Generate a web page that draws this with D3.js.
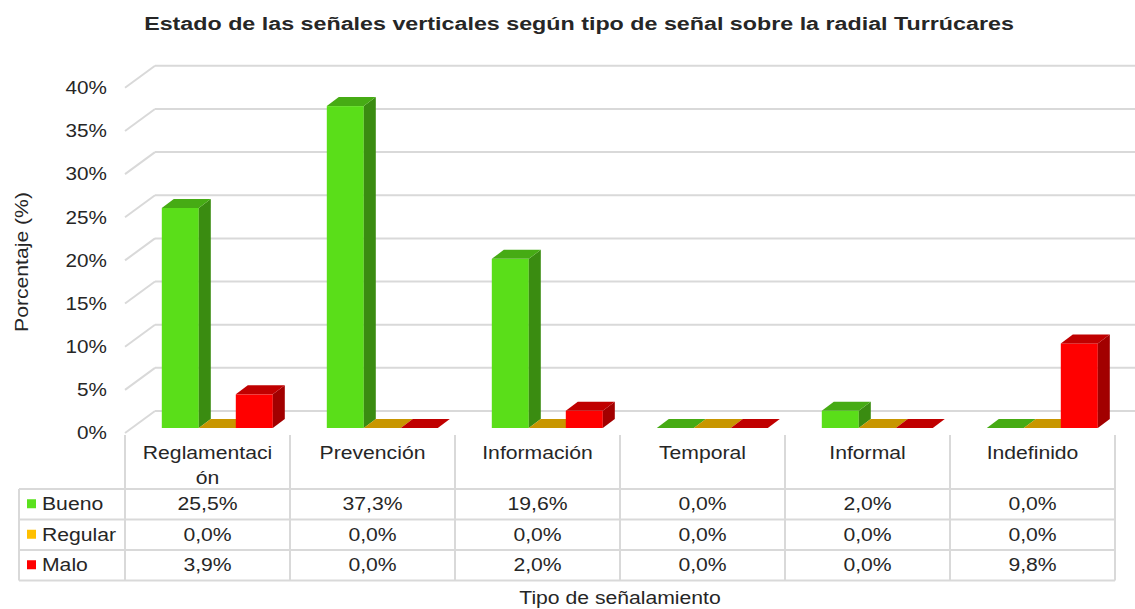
<!DOCTYPE html>
<html>
<head>
<meta charset="utf-8">
<script src="https://cdn.jsdelivr.net/npm/d3@7"></script>
<style>
  body { margin: 0; background: #fff; }
  text { font-family: "Liberation Sans", Arial, sans-serif; fill: #262626; }
</style>
</head>
<body>
<svg width="1135" height="609"></svg>
<script>
// datos
var categorias = ["Reglamentación", "Prevención", "Información", "Temporal", "Informal", "Indefinido"];
var series = ["Bueno", "Regular", "Malo"];
var bueno = [25.5, 37.3, 19.6, 0.0, 2.0, 0.0];
var regular = [0.0, 0.0, 0.0, 0.0, 0.0, 0.0];
var malo = [3.9, 0.0, 2.0, 0.0, 0.0, 9.8];
var ticksY = [0, 5, 10, 15, 20, 25, 30, 35, 40];

var valores = [bueno, regular, malo];
var colores = [
    {front: "#5ade19", top: "#46ab14", side: "#3a8c11", legend: "#5be11e"},
    {front: "#ffc000", top: "#c89600", side: "#a67c00", legend: "#ffc000"},
    {front: "#ff0000", top: "#c00000", side: "#a20000", legend: "#ff0000"}
];

var svg = d3.select("svg"),
    width = +svg.attr("width"),
    height = +svg.attr("height");

var loc = d3.formatLocale({decimal: ",", thousands: ".", grouping: [3], currency: ["", ""]});
var fmt = function (v) { return loc.format(".1f")(v) + "%"; };

// el texto del original es mas ancho: se estira en horizontal
var SX = 1.21;
function texto(g, x, y, str, size, anchor, sx) {
    return g.append("text")
        .attr("transform", "translate(" + x + "," + y + ") scale(" + (sx || SX) + ",1)")
        .attr("dy", "0.35em")
        .attr("text-anchor", anchor || "middle")
        .style("font-size", size + "px")
        .text(str);
}

// plano frontal y profundidad
var left = 125, right = 1115, y0 = 433;
var depth = {x: 30, y: -22};
var barOff = {x: 6.8, y: -5};
var barDepth = {x: 12, y: -9};

var y = d3.scaleLinear().domain([0, 40]).range([y0, y0 - 40 * 8.63]);
var x = d3.scaleBand().domain(categorias).range([left, right]);
var xs = d3.scaleBand().domain(series).range([30, 141]);

// rejilla (pared del fondo + pared izquierda)
var grid = svg.append("g").attr("class", "grid");
ticksY.forEach(function (t) {
    grid.append("line")
        .attr("x1", left + depth.x).attr("x2", width + 20)
        .attr("y1", y(t) + depth.y).attr("y2", y(t) + depth.y)
        .attr("stroke", "#d9d9d9").attr("stroke-width", 2);
    grid.append("line")
        .attr("x1", left).attr("x2", left + depth.x)
        .attr("y1", y(t)).attr("y2", y(t) + depth.y)
        .attr("stroke", "#d9d9d9").attr("stroke-width", 2);
});

// etiquetas eje y
var ejeY = svg.append("g");
ticksY.forEach(function (d) {
    texto(ejeY, 107, y(d), d + "%", 18, "end", 1.15);
});

// barras 3D
var bars = svg.append("g").attr("class", "bars");
categorias.forEach(function (c, i) {
    series.forEach(function (s, j) {
        var v = valores[j][i];
        var bx = x(c) + xs(s) + barOff.x;
        var bw = xs.bandwidth();
        var yb = y(0) + barOff.y, yt = y(v) + barOff.y;
        var dx = barDepth.x, dy = barDepth.y;
        var col = colores[j];
        if (v > 0) {
            bars.append("rect")
                .attr("x", bx).attr("y", yt)
                .attr("width", bw).attr("height", yb - yt)
                .attr("fill", col.front);
            bars.append("path")
                .attr("d", "M" + (bx + bw) + "," + yt + "L" + (bx + bw + dx) + "," + (yt + dy) +
                    "L" + (bx + bw + dx) + "," + (yb + dy) + "L" + (bx + bw) + "," + yb + "Z")
                .attr("fill", col.side);
        }
        bars.append("path")
            .attr("d", "M" + bx + "," + yt + "L" + (bx + dx) + "," + (yt + dy) +
                "L" + (bx + bw + dx) + "," + (yt + dy) + "L" + (bx + bw) + "," + yt + "Z")
            .attr("fill", col.top);
    });
});

// tabla de datos
var tabla = svg.append("g").attr("class", "tabla");
var tLeft = 19, hTop = 435, hBot = 489, rowH = 30.5;
var rowsY = [hBot, hBot + rowH, hBot + 2 * rowH, hBot + 3 * rowH];
var lineCol = "#d9d9d9";

rowsY.forEach(function (ry) {
    tabla.append("line")
        .attr("x1", tLeft).attr("x2", right)
        .attr("y1", ry).attr("y2", ry)
        .attr("stroke", lineCol).attr("stroke-width", 2);
});
tabla.append("line")
    .attr("x1", tLeft).attr("x2", tLeft)
    .attr("y1", hBot).attr("y2", rowsY[3])
    .attr("stroke", lineCol).attr("stroke-width", 2);
categorias.concat([null]).forEach(function (c) {
    var cx = c ? x(c) : right;
    tabla.append("line")
        .attr("x1", cx).attr("x2", cx)
        .attr("y1", hTop).attr("y2", rowsY[3])
        .attr("stroke", lineCol).attr("stroke-width", 2);
});

// cabeceras (se parten por caracteres si no caben)
var maxW = 140;
categorias.forEach(function (c) {
    var lines = [], cur = "";
    var probe = tabla.append("text").style("font-size", "17.5px");
    for (var k = 0; k < c.length; k++) {
        probe.text(cur + c[k]);
        if (probe.node().getComputedTextLength() * SX > maxW && cur.length) {
            lines.push(cur);
            cur = c[k];
        } else {
            cur += c[k];
        }
    }
    lines.push(cur);
    probe.remove();
    lines.forEach(function (l, li) {
        texto(tabla, x(c) + x.bandwidth() / 2, 453 + li * 25, l, 17.5);
    });
});

// filas
series.forEach(function (s, j) {
    var cy = rowsY[j] + rowH / 2;
    tabla.append("rect")
        .attr("x", 27).attr("y", cy - 5)
        .attr("width", 9).attr("height", 9)
        .attr("fill", colores[j].legend);
    texto(tabla, 42, cy, s, 17.5, "start");
    categorias.forEach(function (c, i) {
        texto(tabla, x(c) + x.bandwidth() / 2, cy, fmt(valores[j][i]), 17.5);
    });
});

// titulos
texto(svg, 579, 23, "Estado de las señales verticales según tipo de señal sobre la radial Turrúcares", 19, "middle", 1.225)
    .style("font-weight", "bold");

svg.append("text")
    .attr("transform", "translate(22,262) rotate(-90) scale(" + SX + ",1)")
    .attr("dy", "0.35em")
    .attr("text-anchor", "middle")
    .style("font-size", "17.5px")
    .text("Porcentaje (%)");

texto(svg, 620, 598, "Tipo de señalamiento", 17.5);
</script>
</body>
</html>
